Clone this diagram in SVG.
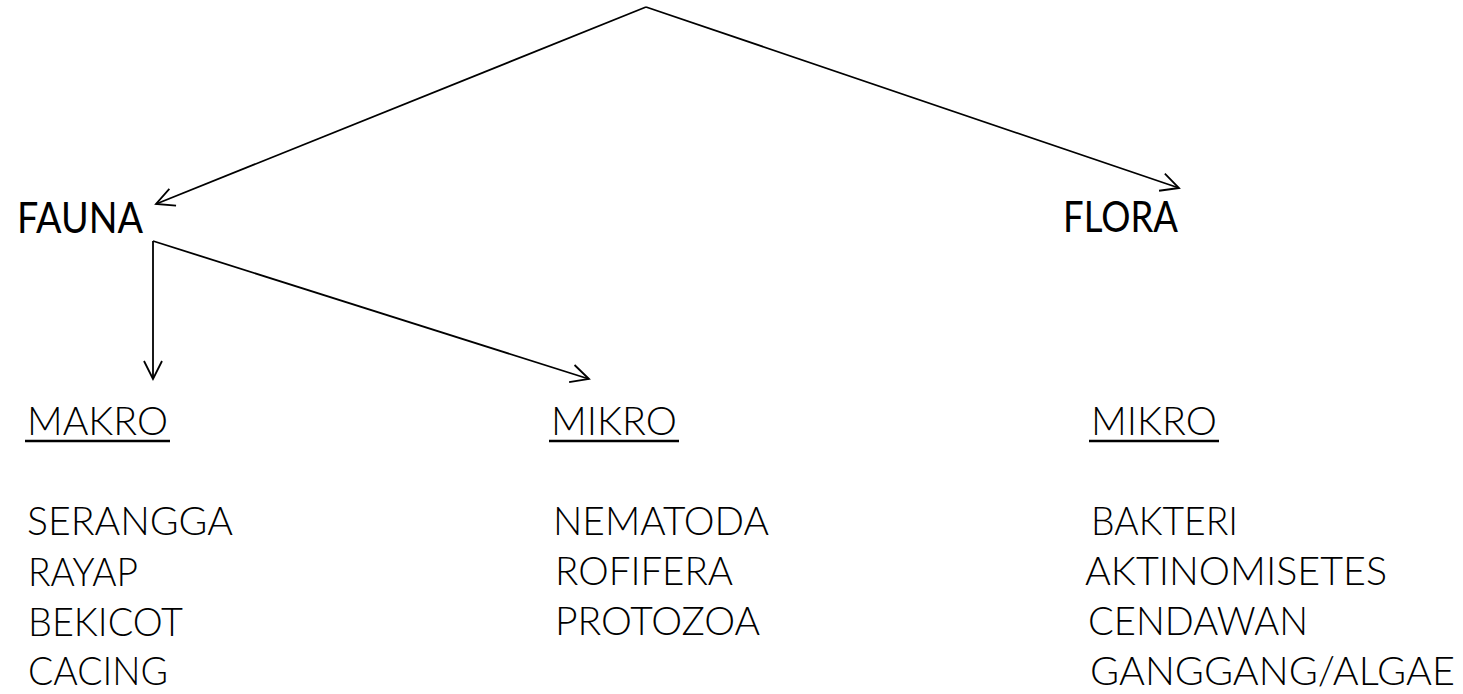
<svg xmlns="http://www.w3.org/2000/svg" width="1463" height="694" viewBox="0 0 1463 694">
  <style>
    .head { font-family: Lato, "Liberation Sans", sans-serif; font-size: 42px; font-weight: 400; fill: #000; }
    .lt { font-family: Lato, "Liberation Sans", sans-serif; font-size: 40px; font-weight: 300; fill: #000; }
    .edge { stroke: #000; stroke-width: 1.8; fill: none; marker-end: url(#arrow); }
    .ul { stroke: #000; stroke-width: 2.6; }
  </style>
  <defs>
    <marker id="arrow" markerUnits="userSpaceOnUse" viewBox="-20 -11 22 22" refX="0" refY="0" markerWidth="22" markerHeight="22" orient="auto">
      <path d="M-18,-9 L0,0 L-18,9" fill="none" stroke="#000" stroke-width="1.8"/>
    </marker>
  </defs>
  <rect width="1463" height="694" fill="#fff"/>

  <g id="connectors">
    <line class="edge" x1="646" y1="7" x2="156" y2="204"/>
    <line class="edge" x1="646" y1="7" x2="1179" y2="188"/>
    <line class="edge" x1="153" y1="241" x2="153" y2="379"/>
    <line class="edge" x1="153" y1="241" x2="589" y2="379"/>
  </g>

  <g id="fauna">
    <text class="head" x="17" y="233" textLength="126" lengthAdjust="spacingAndGlyphs">FAUNA</text>
  </g>
  <g id="flora">
    <text class="head" x="1063" y="232" textLength="115" lengthAdjust="spacingAndGlyphs">FLORA</text>
  </g>

  <g id="makro">
    <text class="lt" x="27" y="435" textLength="141" lengthAdjust="spacingAndGlyphs">MAKRO</text>
    <line class="ul" x1="25" y1="441" x2="170" y2="441"/>
  </g>
  <g id="mikro-fauna">
    <text class="lt" x="551" y="435" textLength="126" lengthAdjust="spacingAndGlyphs">MIKRO</text>
    <line class="ul" x1="549" y1="441" x2="679" y2="441"/>
  </g>
  <g id="mikro-flora">
    <text class="lt" x="1091" y="435" textLength="126" lengthAdjust="spacingAndGlyphs">MIKRO</text>
    <line class="ul" x1="1089" y1="441" x2="1219" y2="441"/>
  </g>

  <g id="list-makro">
    <text class="lt" x="27" y="535" textLength="206" lengthAdjust="spacingAndGlyphs">SERANGGA</text>
    <text class="lt" x="28" y="586" textLength="110" lengthAdjust="spacingAndGlyphs">RAYAP</text>
    <text class="lt" x="28" y="636" textLength="155" lengthAdjust="spacingAndGlyphs">BEKICOT</text>
    <text class="lt" x="28" y="685" textLength="140" lengthAdjust="spacingAndGlyphs">CACING</text>
  </g>
  <g id="list-mikro-fauna">
    <text class="lt" x="553" y="535" textLength="216" lengthAdjust="spacingAndGlyphs">NEMATODA</text>
    <text class="lt" x="555" y="585" textLength="178" lengthAdjust="spacingAndGlyphs">ROFIFERA</text>
    <text class="lt" x="555" y="635" textLength="205" lengthAdjust="spacingAndGlyphs">PROTOZOA</text>
  </g>
  <g id="list-mikro-flora">
    <text class="lt" x="1091" y="535" textLength="147" lengthAdjust="spacingAndGlyphs">BAKTERI</text>
    <text class="lt" x="1085" y="585" textLength="302" lengthAdjust="spacingAndGlyphs">AKTINOMISETES</text>
    <text class="lt" x="1088" y="635" textLength="220" lengthAdjust="spacingAndGlyphs">CENDAWAN</text>
    <text class="lt" x="1090" y="685" textLength="365" lengthAdjust="spacingAndGlyphs">GANGGANG/ALGAE</text>
  </g>
</svg>
